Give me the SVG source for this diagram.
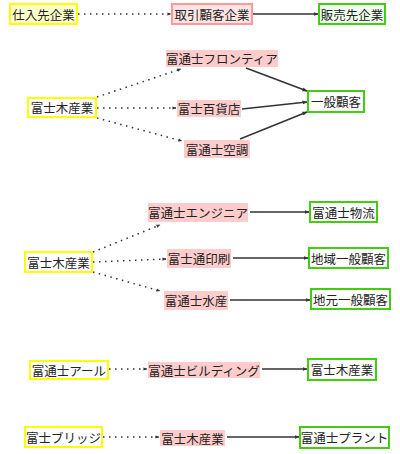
<svg xmlns="http://www.w3.org/2000/svg" width="400" height="454" viewBox="0 0 400 454">
<defs>
<style>
text{font-family:"Noto Sans CJK JP","Noto Sans CJK SC",sans-serif;font-size:12.5px;fill:#222;text-anchor:middle;dominant-baseline:central}
.y{fill:#fff;stroke:#ffff00;stroke-width:2}
.yf{fill:#ffffcc;stroke:#ffff00;stroke-width:2}
.p{fill:#ffcccc;stroke:none}
.pf{fill:#ffe4e4;stroke:#ff9999;stroke-width:2}
.g{fill:#fff;stroke:#44cc11;stroke-width:2}
.gf{fill:#eeffee;stroke:#44cc11;stroke-width:2}
.s{stroke:#333;stroke-width:1.5;fill:none;marker-end:url(#a)}
.d{stroke:#333;stroke-width:1.5;fill:none;stroke-dasharray:1.5 4.5;marker-end:url(#b)}
</style>
<marker id="a" viewBox="0 0 10 10" refX="9" refY="5" markerWidth="5" markerHeight="5" markerUnits="userSpaceOnUse" orient="auto"><path d="M0,1 L10,5 L0,9 Z" fill="#333"/></marker>
<marker id="b" viewBox="0 0 10 10" refX="9" refY="5" markerWidth="4" markerHeight="4" markerUnits="userSpaceOnUse" orient="auto"><path d="M0,1 L10,5 L0,9 Z" fill="#333"/></marker>
</defs>
<g id="connectors">
<line class="d" x1="78" y1="14" x2="171" y2="14"/>
<line class="s" x1="253" y1="14" x2="318" y2="14"/>
<line class="d" x1="97" y1="97" x2="181" y2="69"/>
<line class="d" x1="97" y1="108" x2="176" y2="108"/>
<line class="d" x1="97" y1="118" x2="182" y2="141"/>
<line class="s" x1="246" y1="68" x2="307" y2="91"/>
<line class="s" x1="242" y1="109" x2="307" y2="102"/>
<line class="s" x1="240" y1="139" x2="307" y2="112"/>
<line class="d" x1="93" y1="252" x2="160" y2="225"/>
<line class="d" x1="93" y1="262" x2="166" y2="259"/>
<line class="d" x1="93" y1="272" x2="160" y2="291"/>
<line class="s" x1="250" y1="212" x2="309" y2="212"/>
<line class="s" x1="233" y1="258" x2="308" y2="258"/>
<line class="s" x1="230" y1="300" x2="310" y2="300"/>
<line class="d" x1="109" y1="369" x2="147" y2="369"/>
<line class="s" x1="262" y1="369" x2="307" y2="369"/>
<line class="d" x1="103" y1="437" x2="159" y2="437"/>
<line class="s" x1="227" y1="437" x2="299" y2="437"/>
</g>
<g id="n1"><rect class="yf" x="10" y="4" width="67" height="20"/><text x="43.5" y="14">仕入先企業</text></g>
<g id="n2"><rect class="pf" x="172" y="4" width="80" height="20"/><text x="212" y="14">取引顧客企業</text></g>
<g id="n3"><rect class="gf" x="319" y="4" width="66" height="20"/><text x="352" y="14">販売先企業</text></g>
<g id="n4"><rect class="y" x="28" y="98" width="68" height="19"/><text x="62" y="107.5">富士木産業</text></g>
<g id="n5"><rect class="p" x="166" y="50" width="112" height="17"/><text x="222" y="58.5">富通士フロンティア</text></g>
<g id="n6"><rect class="p" x="177" y="100" width="64" height="17"/><text x="209" y="108.5">富士百貨店</text></g>
<g id="n7"><rect class="p" x="184" y="140" width="66" height="18"/><text x="217" y="149">富通士空調</text></g>
<g id="n8"><rect class="g" x="308" y="91" width="56" height="21"/><text x="336" y="101.5">一般顧客</text></g>
<g id="n9"><rect class="p" x="148" y="203" width="100" height="19"/><text x="198" y="212.5">富通士エンジニア</text></g>
<g id="n10"><rect class="g" x="310" y="202" width="67" height="20"/><text x="343.5" y="212">富通士物流</text></g>
<g id="n11"><rect class="y" x="25" y="252" width="67" height="20"/><text x="58.5" y="262">富士木産業</text></g>
<g id="n12"><rect class="p" x="167" y="249" width="64" height="19"/><text x="199" y="258.5">富士通印刷</text></g>
<g id="n13"><rect class="g" x="309" y="248" width="79" height="20"/><text x="348.5" y="258">地域一般顧客</text></g>
<g id="n14"><rect class="p" x="164" y="291" width="64" height="19"/><text x="196" y="300.5">富通士水産</text></g>
<g id="n15"><rect class="g" x="311" y="289" width="79" height="20"/><text x="350.5" y="299">地元一般顧客</text></g>
<g id="n16"><rect class="y" x="30" y="361" width="78" height="18"/><text x="69" y="370">富通士アール</text></g>
<g id="n17"><rect class="p" x="148" y="362" width="112" height="16"/><text x="204" y="370">富通士ビルディング</text></g>
<g id="n18"><rect class="g" x="308" y="359" width="68" height="21"/><text x="342" y="369.5">富士木産業</text></g>
<g id="n19"><rect class="y" x="25" y="427" width="77" height="20"/><text x="63.5" y="437">富士ブリッジ</text></g>
<g id="n20"><rect class="p" x="160" y="430" width="65" height="16"/><text x="192.5" y="438">富士木産業</text></g>
<g id="n21"><rect class="g" x="300" y="427" width="89" height="21"/><text x="344.5" y="437.5">富通士プラント</text></g>
</svg>
